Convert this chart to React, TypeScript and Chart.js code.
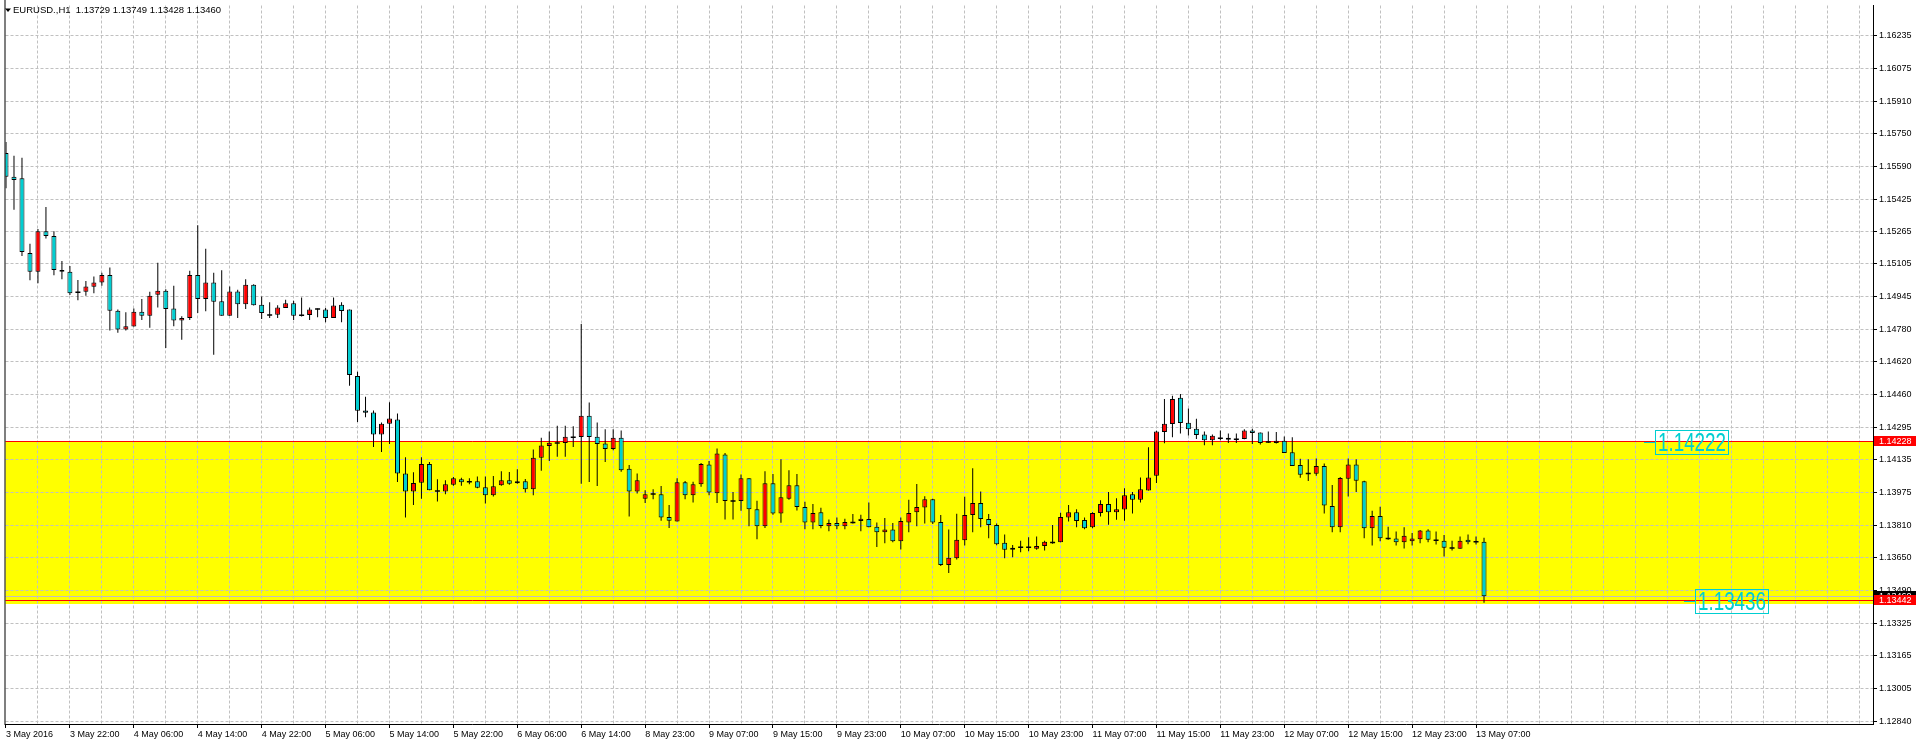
import React, { useEffect, useRef } from 'react';
import { Chart, registerables } from 'chart.js';

Chart.register(...registerables);

// ---- Data (EURUSD H1) ----
const opens = [
  1.15655, 1.15537, 1.15529, 1.15160, 1.15066, 1.15267, 1.15243, 1.15075, 1.15066, 1.14965,
  1.14967, 1.14992, 1.15013, 1.15051, 1.14874, 1.14781, 1.14795, 1.14869, 1.14849, 1.14953,
  1.14972, 1.14885, 1.14825, 1.14838, 1.15051, 1.14931, 1.15013, 1.14920, 1.14849, 1.14969,
  1.14906, 1.15002, 1.14903, 1.14852, 1.14854, 1.14887, 1.14910, 1.14851, 1.14852, 1.14882,
  1.14879, 1.14838, 1.14903, 1.14879, 1.14550, 1.14379, 1.14369, 1.14260, 1.14314, 1.14335,
  1.14068, 1.13978, 1.14022, 1.14114, 1.13981, 1.13978, 1.14012, 1.14039, 1.14027, 1.14029,
  1.13999, 1.13960, 1.14009, 1.14034, 1.14019, 1.14029, 1.13990, 1.14145, 1.14204, 1.14219,
  1.14218, 1.14247, 1.14248, 1.14353, 1.14250, 1.14216, 1.14189, 1.14245, 1.14091, 1.13978,
  1.13943, 1.13966, 1.13965, 1.13852, 1.13830, 1.14024, 1.13960, 1.14014, 1.14112, 1.13970,
  1.14161, 1.13931, 1.13931, 1.14044, 1.13891, 1.13806, 1.14019, 1.13870, 1.13943, 1.14009,
  1.13901, 1.13825, 1.13876, 1.13806, 1.13822, 1.13806, 1.13825, 1.13832, 1.13842, 1.13804,
  1.13776, 1.13790, 1.13732, 1.13825, 1.13875, 1.13899, 1.13940, 1.13827, 1.13614, 1.13648,
  1.13737, 1.13862, 1.13921, 1.13842, 1.13813, 1.13724, 1.13690, 1.13702, 1.13702, 1.13695,
  1.13709, 1.13726, 1.13727, 1.13850, 1.13876, 1.13837, 1.13801, 1.13872, 1.13916, 1.13875,
  1.13889, 1.13965, 1.13938, 1.13983, 1.14056, 1.14273, 1.14312, 1.14442, 1.14319, 1.14289,
  1.14260, 1.14232, 1.14242, 1.14245, 1.14237, 1.14238, 1.14281, 1.14270, 1.14223, 1.14218,
  1.14230, 1.14173, 1.14109, 1.14068, 1.14066, 1.14104, 1.13907, 1.13801, 1.14042, 1.14112,
  1.14029, 1.13796, 1.13857, 1.13745, 1.13745, 1.13727, 1.13732, 1.13742, 1.13785, 1.13737,
  1.13734, 1.13698, 1.13695, 1.13740, 1.13729, 1.13729,
];

const highs = [
  1.15709, 1.15641, 1.15631, 1.15205, 1.15278, 1.15387, 1.15267, 1.15120, 1.15095, 1.15026,
  1.15021, 1.15043, 1.15062, 1.15087, 1.14879, 1.14866, 1.14885, 1.14931, 1.14967, 1.15111,
  1.14980, 1.14997, 1.14846, 1.15071, 1.15297, 1.15180, 1.15062, 1.15074, 1.14993, 1.14977,
  1.15029, 1.15005, 1.14944, 1.14915, 1.14901, 1.14928, 1.14923, 1.14939, 1.14890, 1.14885,
  1.14887, 1.14939, 1.14915, 1.14879, 1.14571, 1.14448, 1.14379, 1.14320, 1.14420, 1.14364,
  1.14148, 1.14074, 1.14148, 1.14124, 1.14039, 1.14034, 1.14050, 1.14047, 1.14044, 1.14053,
  1.14053, 1.14055, 1.14078, 1.14075, 1.14088, 1.14040, 1.14186, 1.14245, 1.14276, 1.14304,
  1.14304, 1.14301, 1.14808, 1.14419, 1.14320, 1.14287, 1.14287, 1.14281, 1.14109, 1.14068,
  1.13985, 1.13990, 1.14006, 1.13912, 1.14044, 1.14030, 1.14027, 1.14119, 1.14129, 1.14191,
  1.14169, 1.13976, 1.14063, 1.14044, 1.13932, 1.14079, 1.14065, 1.14138, 1.14084, 1.14065,
  1.13927, 1.13917, 1.13898, 1.13840, 1.13850, 1.13844, 1.13867, 1.13863, 1.13924, 1.13825,
  1.13847, 1.13822, 1.13850, 1.13937, 1.14016, 1.13955, 1.13943, 1.13862, 1.13790, 1.13868,
  1.13952, 1.14094, 1.13978, 1.13867, 1.13820, 1.13765, 1.13714, 1.13735, 1.13752, 1.13755,
  1.13734, 1.13813, 1.13873, 1.13911, 1.13891, 1.13850, 1.13875, 1.13935, 1.13976, 1.13945,
  1.13994, 1.13976, 1.14048, 1.14197, 1.14279, 1.14437, 1.14453, 1.14461, 1.14389, 1.14338,
  1.14275, 1.14260, 1.14281, 1.14265, 1.14265, 1.14287, 1.14289, 1.14271, 1.14276, 1.14273,
  1.14251, 1.14247, 1.14140, 1.14138, 1.14142, 1.14117, 1.14011, 1.14050, 1.14142, 1.14138,
  1.14032, 1.13883, 1.13903, 1.13804, 1.13780, 1.13801, 1.13773, 1.13788, 1.13791, 1.13780,
  1.13763, 1.13735, 1.13755, 1.13765, 1.13755, 1.13749,
];

const lows = [
  1.15480, 1.15373, 1.15144, 1.15024, 1.15010, 1.15231, 1.15049, 1.15029, 1.14951, 1.14926,
  1.14948, 1.14960, 1.14997, 1.14776, 1.14764, 1.14776, 1.14795, 1.14828, 1.14789, 1.14890,
  1.14689, 1.14797, 1.14730, 1.14828, 1.14862, 1.14871, 1.14656, 1.14849, 1.14849, 1.14838,
  1.14882, 1.14899, 1.14833, 1.14838, 1.14838, 1.14887, 1.14828, 1.14845, 1.14828, 1.14841,
  1.14817, 1.14838, 1.14817, 1.14502, 1.14322, 1.14346, 1.14199, 1.14174, 1.14214, 1.14025,
  1.13850, 1.13911, 1.13943, 1.13985, 1.13929, 1.13965, 1.14007, 1.14007, 1.14014, 1.13994,
  1.13919, 1.13953, 1.14007, 1.14012, 1.14017, 1.13973, 1.13960, 1.14081, 1.14129, 1.14150,
  1.14150, 1.14199, 1.14017, 1.14025, 1.14006, 1.14124, 1.14183, 1.14076, 1.13855, 1.13968,
  1.13921, 1.13940, 1.13834, 1.13798, 1.13830, 1.13940, 1.13924, 1.14002, 1.13960, 1.13921,
  1.13840, 1.13840, 1.13883, 1.13806, 1.13742, 1.13798, 1.13863, 1.13824, 1.13937, 1.13884,
  1.13791, 1.13791, 1.13796, 1.13781, 1.13791, 1.13791, 1.13820, 1.13781, 1.13801, 1.13703,
  1.13722, 1.13727, 1.13691, 1.13776, 1.13806, 1.13820, 1.13818, 1.13609, 1.13575, 1.13642,
  1.13711, 1.13776, 1.13801, 1.13747, 1.13712, 1.13648, 1.13653, 1.13678, 1.13683, 1.13690,
  1.13686, 1.13719, 1.13727, 1.13830, 1.13801, 1.13791, 1.13796, 1.13855, 1.13814, 1.13839,
  1.13834, 1.13870, 1.13924, 1.13983, 1.14020, 1.14217, 1.14247, 1.14266, 1.14256, 1.14238,
  1.14207, 1.14207, 1.14232, 1.14218, 1.14218, 1.14237, 1.14214, 1.14211, 1.14218, 1.14216,
  1.14169, 1.14105, 1.14047, 1.14030, 1.14056, 1.13870, 1.13776, 1.13776, 1.13953, 1.13976,
  1.13747, 1.13711, 1.13732, 1.13739, 1.13711, 1.13696, 1.13711, 1.13722, 1.13727, 1.13716,
  1.13657, 1.13686, 1.13695, 1.13717, 1.13716, 1.13428,
];

const closes = [
  1.15537, 1.15521, 1.15164, 1.15066, 1.15267, 1.15243, 1.15075, 1.15066, 1.14960, 1.14965,
  1.14993, 1.15013, 1.15051, 1.14874, 1.14781, 1.14797, 1.14869, 1.14849, 1.14948, 1.14972,
  1.14882, 1.14825, 1.14838, 1.15051, 1.14931, 1.15013, 1.14918, 1.14849, 1.14969, 1.14906,
  1.15002, 1.14901, 1.14862, 1.14852, 1.14890, 1.14910, 1.14849, 1.14851, 1.14879, 1.14882,
  1.14838, 1.14899, 1.14872, 1.14555, 1.14378, 1.14368, 1.14260, 1.14314, 1.14340, 1.14068,
  1.13978, 1.14020, 1.14114, 1.13985, 1.13981, 1.14014, 1.14044, 1.14024, 1.14027, 1.13997,
  1.13960, 1.14004, 1.14034, 1.14017, 1.14029, 1.13990, 1.14145, 1.14206, 1.14220, 1.14219,
  1.14250, 1.14247, 1.14353, 1.14248, 1.14214, 1.14189, 1.14245, 1.14084, 1.13978, 1.14034,
  1.13965, 1.13966, 1.13850, 1.13834, 1.14024, 1.13960, 1.14014, 1.14115, 1.13973, 1.14166,
  1.13931, 1.13931, 1.14044, 1.13891, 1.13806, 1.14019, 1.13870, 1.13950, 1.14009, 1.13901,
  1.13825, 1.13872, 1.13808, 1.13822, 1.13806, 1.13827, 1.13825, 1.13844, 1.13801, 1.13776,
  1.13790, 1.13732, 1.13832, 1.13872, 1.13901, 1.13940, 1.13825, 1.13614, 1.13650, 1.13739,
  1.13862, 1.13921, 1.13842, 1.13813, 1.13717, 1.13690, 1.13700, 1.13702, 1.13702, 1.13709,
  1.13729, 1.13726, 1.13852, 1.13876, 1.13832, 1.13796, 1.13872, 1.13916, 1.13876, 1.13891,
  1.13960, 1.13938, 1.13990, 1.14048, 1.14275, 1.14314, 1.14437, 1.14317, 1.14287, 1.14258,
  1.14232, 1.14255, 1.14242, 1.14235, 1.14237, 1.14281, 1.14268, 1.14218, 1.14223, 1.14230,
  1.14169, 1.14105, 1.14061, 1.14068, 1.14104, 1.13909, 1.13801, 1.14045, 1.14112, 1.14032,
  1.13796, 1.13857, 1.13747, 1.13745, 1.13727, 1.13759, 1.13745, 1.13785, 1.13739, 1.13737,
  1.13700, 1.13698, 1.13734, 1.13727, 1.13729, 1.13460,
];

const timeLabels = [
  '3 May 2016', '3 May 22:00', '4 May 06:00', '4 May 14:00', '4 May 22:00', '5 May 06:00',
  '5 May 14:00', '5 May 22:00', '6 May 06:00', '6 May 14:00', '8 May 23:00', '9 May 07:00',
  '9 May 15:00', '9 May 23:00', '10 May 07:00', '10 May 15:00', '10 May 23:00', '11 May 07:00',
  '11 May 15:00', '11 May 23:00', '12 May 07:00', '12 May 15:00', '12 May 23:00', '13 May 07:00',
];

const priceTickLabels = [
  '1.16235', '1.16075', '1.15910', '1.15750', '1.15590', '1.15425', '1.15265', '1.15105',
  '1.14945', '1.14780', '1.14620', '1.14460', '1.14295', '1.14135', '1.13975', '1.13810',
  '1.13650', '1.13490', '1.13325', '1.13165', '1.13005', '1.12840',
];

const symbolName = 'EURUSD.,H1';
const zoneBounds = [1.14228, 1.13420];
const levelLines = [1.14228, 1.13442];
const priceTagBars = [205, 210];
const priceTagValues = [1.14222, 1.13436];

// ---- Styles ----
const BULL = '#FF0000';
const BEAR = '#00CED1';
const CYAN = '#00CED1';
const GRID = '#C0C0C0';
const FONT = '"Liberation Sans", Arial, sans-serif';
const BAR_SPACING_LABEL = 8;
const GRID_STEP = 4;

const overlayPlugin = {
  id: 'mt4Overlay',
  beforeDraw(chart: any) {
    const { ctx, chartArea: a, scales } = chart;
    const y = scales.y;
    const t = Math.round(y.getPixelForValue(zoneBounds[0]));
    const b = Math.round(y.getPixelForValue(zoneBounds[1]));
    ctx.save();
    ctx.fillStyle = '#FFFF00';
    ctx.fillRect(a.left, t, a.right - a.left, b - t);
    ctx.restore();
  },
  beforeDatasetsDraw(chart: any) {
    const { ctx, chartArea: a, scales } = chart;
    const y = scales.y;
    ctx.save();
    ctx.lineWidth = 1;
    const bid = closes[closes.length - 1];
    const yb = Math.round(y.getPixelForValue(bid)) + 0.5;
    ctx.strokeStyle = GRID;
    ctx.beginPath();
    ctx.moveTo(a.left, yb);
    ctx.lineTo(a.right, yb);
    ctx.stroke();
    ctx.strokeStyle = '#FF0000';
    for (const p of levelLines) {
      const yy = Math.round(y.getPixelForValue(p)) + 0.5;
      ctx.beginPath();
      ctx.moveTo(a.left, yy);
      ctx.lineTo(a.right, yy);
      ctx.stroke();
    }
    ctx.restore();
  },
  afterDraw(chart: any) {
    const { ctx, chartArea: a, scales } = chart;
    const x = scales.x;
    const y = scales.y;
    ctx.save();
    // left frame
    ctx.fillStyle = '#000';
    ctx.fillRect(a.left - 1, 0, 1, a.bottom + 1);

    // header
    ctx.beginPath();
    ctx.moveTo(5, 8.5);
    ctx.lineTo(11, 8.5);
    ctx.lineTo(8, 12);
    ctx.closePath();
    ctx.fill();
    const n = closes.length - 1;
    const header = `${symbolName}  ${opens[n].toFixed(5)} ${highs[n].toFixed(5)} ${lows[n].toFixed(5)} ${closes[n].toFixed(5)}`;
    ctx.font = `9.5px ${FONT}`;
    ctx.textBaseline = 'middle';
    ctx.textAlign = 'left';
    ctx.fillText(header, 13, 10.5);

    // price tag objects
    for (let i = 0; i < priceTagBars.length; i++) {
      const px = Math.round(x.getPixelForValue(priceTagBars[i]));
      const py = y.getPixelForValue(priceTagValues[i]);
      const ly = Math.round(py) + 0.5;
      ctx.strokeStyle = CYAN;
      ctx.lineWidth = 1;
      ctx.beginPath();
      ctx.moveTo(px, ly);
      ctx.lineTo(px + 11, ly);
      ctx.stroke();
      const bx = px + 11;
      const bw = 73;
      const bh = 24;
      const by = Math.round(py) - 12;
      ctx.strokeRect(bx + 0.5, by + 0.5, bw, bh);
      const text = priceTagValues[i].toFixed(5);
      ctx.font = `26px ${FONT}`;
      const w = ctx.measureText(text).width;
      ctx.save();
      ctx.translate(bx + 3, by + bh / 2 + 1.5);
      ctx.scale(68 / w, 1);
      ctx.fillStyle = CYAN;
      ctx.textAlign = 'left';
      ctx.textBaseline = 'middle';
      ctx.fillText(text, 0, 0);
      ctx.restore();
    }

    // axis tags
    const drawTag = (price: number, bg: string) => {
      const yy = Math.round(y.getPixelForValue(price));
      ctx.fillStyle = bg;
      ctx.fillRect(a.right + 1, yy - 5, chart.width - a.right - 1, 10);
      ctx.fillStyle = '#FFFFFF';
      ctx.font = `9px ${FONT}`;
      ctx.textAlign = 'left';
      ctx.textBaseline = 'middle';
      ctx.fillText(price.toFixed(5), a.right + 6, yy + 0.5);
    };
    drawTag(closes[closes.length - 1], '#000000');
    for (const p of levelLines) drawTag(p, '#FF0000');
    ctx.restore();
  },
};

export default function App() {
  const ref = useRef<HTMLCanvasElement | null>(null);

  useEffect(() => {
    document.body.style.margin = '0';
    const idx = opens.map((_, i) => i);
    const wickData = idx.map((i) => ({ x: i, y: [lows[i], highs[i]] }));
    const bodyIdx = idx.filter((i) => opens[i] !== closes[i]);
    const bodyData = bodyIdx.map((i) => ({ x: i, y: [opens[i], closes[i]] }));
    const bodyColors = bodyIdx.map((i) => (closes[i] > opens[i] ? BULL : BEAR));
    const dojiData = idx.filter((i) => opens[i] === closes[i]).map((i) => ({ x: i, y: opens[i] }));

    const chart = new Chart(ref.current as HTMLCanvasElement, {
      type: 'bar',
      data: {
        datasets: [
          {
            type: 'bar',
            data: wickData as any,
            backgroundColor: '#000000',
            borderWidth: 0,
            maxBarThickness: 1,
            grouped: false,
            inflateAmount: 0,
            order: 3,
          } as any,
          {
            type: 'bar',
            data: bodyData as any,
            backgroundColor: bodyColors,
            borderColor: '#000000',
            borderWidth: 1,
            borderSkipped: false,
            maxBarThickness: 5,
            grouped: false,
            inflateAmount: 0,
            order: 2,
          } as any,
          {
            type: 'scatter',
            data: dojiData as any,
            pointStyle: 'line',
            pointRadius: 2.5,
            borderColor: '#000000',
            borderWidth: 1.5,
            order: 1,
          } as any,
        ],
      },
      options: {
        responsive: false,
        animation: false,
        devicePixelRatio: 1,
        events: [],
        layout: { padding: { left: 3, top: 0, right: 0, bottom: 0 } },
        plugins: { legend: { display: false }, tooltip: { enabled: false } },
        scales: {
          x: {
            type: 'linear',
            min: -0.0625,
            max: 233.6875,
            offset: false,
            afterBuildTicks: (s: any) => {
              const t: any[] = [];
              for (let v = 0; v <= 232; v += GRID_STEP) t.push({ value: v });
              s.ticks = t;
            },
            afterFit: (s: any) => {
              s.height = 22;
              s.paddingLeft = 0;
              s.paddingRight = 0;
            },
            ticks: {
              autoSkip: false,
              maxRotation: 0,
              minRotation: 0,
              align: 'start',
              padding: 1,
              color: '#000000',
              font: { family: FONT, size: 9 },
              callback: (v: any) => {
                const k = v / BAR_SPACING_LABEL;
                return Number.isInteger(k) && k < timeLabels.length ? timeLabels[k] : '';
              },
            },
            grid: {
              offset: false,
              lineWidth: 1,
              tickLength: 4,
              color: (c: any) => (c.tick && c.tick.value === 0 ? 'rgba(0,0,0,0)' : GRID),
              tickColor: (c: any) => {
                if (!c.tick) return 'rgba(0,0,0,0)';
                const k = c.tick.value / BAR_SPACING_LABEL;
                return Number.isInteger(k) && k < timeLabels.length ? '#000000' : 'rgba(0,0,0,0)';
              },
            },
            border: { color: '#000000', width: 1, dash: [3, 2] },
          } as any,
          y: {
            type: 'linear',
            position: 'right',
            min: 1.12827,
            max: 1.16385,
            afterBuildTicks: (s: any) => {
              s.ticks = priceTickLabels.map((l) => ({ value: parseFloat(l) }));
            },
            afterFit: (s: any) => {
              s.width = 43;
              s.paddingTop = 0;
              s.paddingBottom = 0;
            },
            ticks: {
              autoSkip: false,
              padding: 2,
              color: '#000000',
              font: { family: FONT, size: 9 },
              callback: (_v: any, i: number) => priceTickLabels[i],
            },
            grid: { color: GRID, lineWidth: 1, tickLength: 4, tickColor: '#000000' },
            border: { color: '#000000', width: 1, dash: [3, 2] },
          } as any,
        },
      } as any,
      plugins: [overlayPlugin],
    });
    return () => chart.destroy();
  }, []);

  return (
    <canvas
      ref={ref}
      width={1916}
      height={746}
      style={{ display: 'block', width: '1916px', height: '746px' }}
    />
  );
}
